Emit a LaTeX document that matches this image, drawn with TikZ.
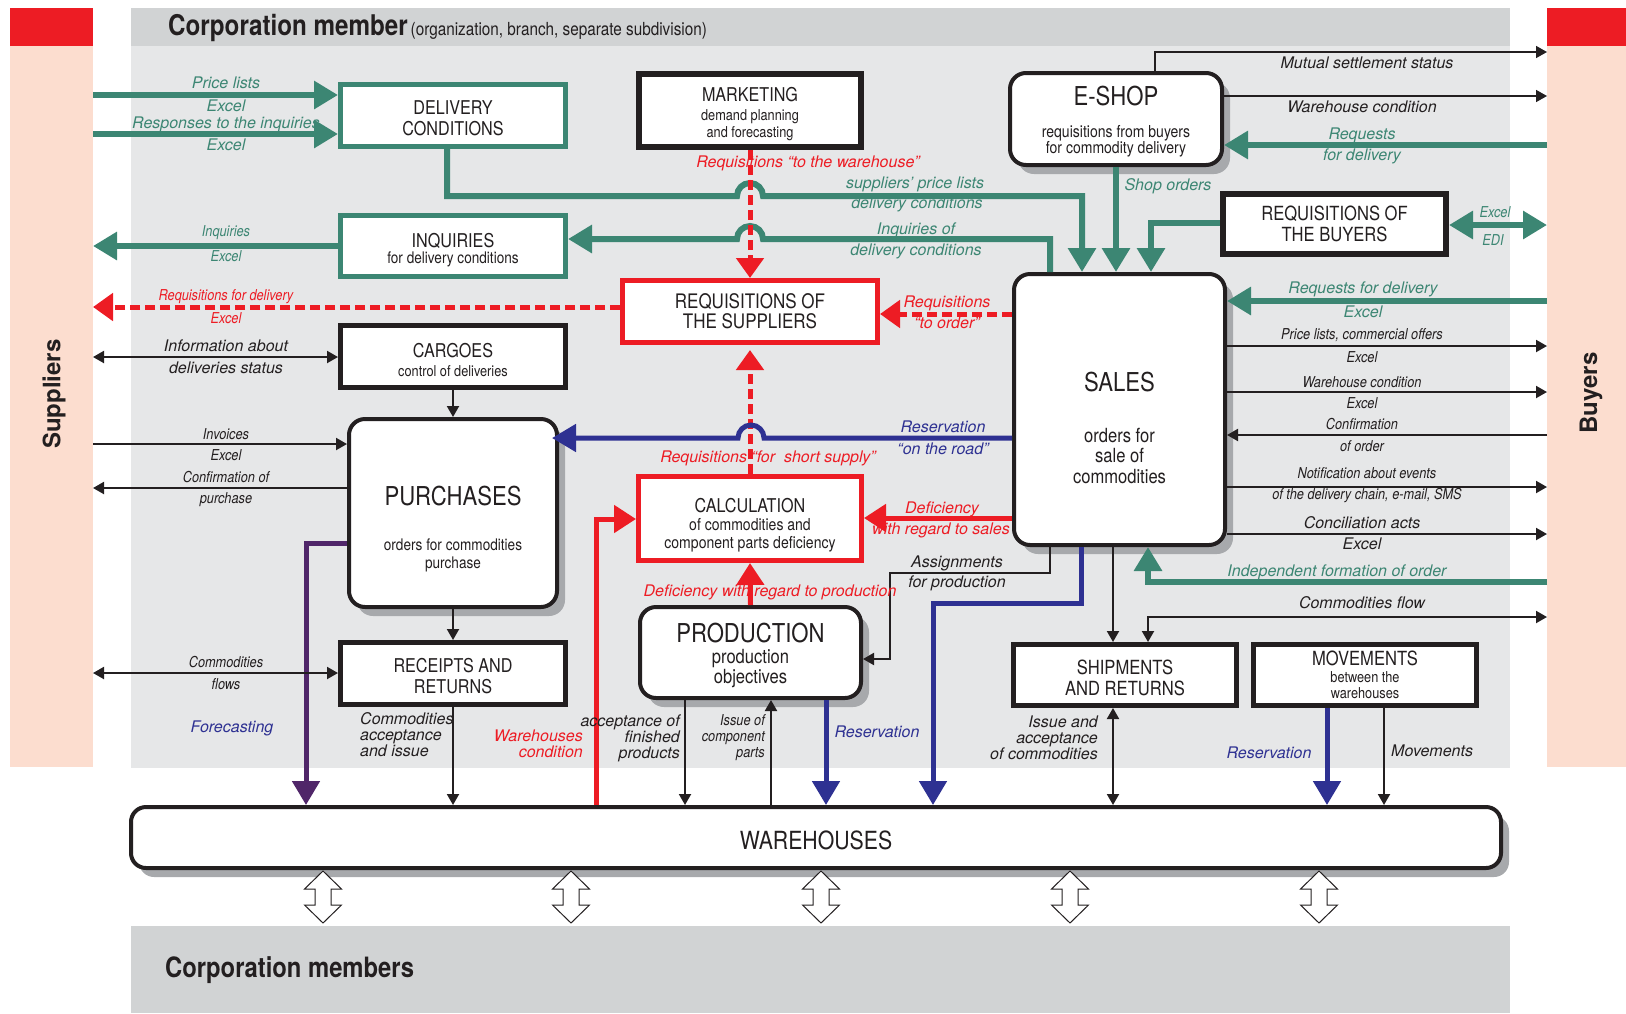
\documentclass[tikz,border=0pt]{standalone}
\usepackage{fontspec}
\setmainfont{TeX Gyre Heros}
\newfontfamily\cnd{TeX Gyre Heros}[FakeStretch=0.85]
\usetikzlibrary{arrows.meta,shadows}
\definecolor{grn}{RGB}{60,134,115}
\definecolor{rd}{RGB}{237,28,36}
\definecolor{blu}{RGB}{46,49,146}
\definecolor{prp}{RGB}{80,38,105}
\definecolor{ink}{RGB}{35,31,32}
\definecolor{bandpink}{RGB}{252,221,207}
\definecolor{hdr}{RGB}{209,211,212}
\definecolor{lgr}{RGB}{230,231,232}
\definecolor{shd}{RGB}{167,169,172}
\newcount\labn
\newcommand\lab[3]{\global\advance\labn by 1\relax\node[#1] (lab\the\labn) at (#2) {#3};}
\newcommand\up[1]{\rule{0pt}{#1pt}}
\tikzset{
 bx/.style={draw=ink, fill=white, line width=5pt, align=center, inner sep=0pt, text=ink},
 gbx/.style={bx, draw=grn},
 rbx/.style={bx, draw=rd},
 rnd/.style={bx, line width=4pt, rounded corners=16pt, drop shadow={shadow xshift=8pt, shadow yshift=-9pt, fill=shd, opacity=1}},
 sz/.style 2 args={font=\cnd\fontsize{#1}{#2}\selectfont},
 garr/.style={draw=grn, line width=6pt, -{Triangle[length=24pt,width=27pt]}},
 gboth/.style={draw=grn, line width=6pt, {Triangle[length=24pt,width=27pt]}-{Triangle[length=24pt,width=27pt]}},
 rdash/.style={draw=rd, line width=5pt, dash pattern=on 10pt off 5pt, -{Triangle[length=20pt,width=27pt]}},
 rarr/.style={draw=rd, line width=5pt, -{Triangle[length=22pt,width=27pt]}},
 barr/.style={draw=blu, line width=5pt, -{Triangle[length=24pt,width=27pt]}},
 parr/.style={draw=prp, line width=5pt, -{Triangle[length=24pt,width=27pt]}},
 karr/.style={draw=ink, line width=2pt, -{Triangle[length=11pt,width=12pt]}},
 kboth/.style={draw=ink, line width=2pt, {Triangle[length=11pt,width=12pt]}-{Triangle[length=11pt,width=12pt]}},
 lr/.style={inner sep=0pt, font=\fontsize{16}{16}\selectfont\itshape, text=ink},
 lc/.style={inner sep=0pt, font=\cnd\fontsize{15}{16}\selectfont\itshape, text=ink},
}
\begin{document}
\begin{tikzpicture}[x=1pt,y=-1pt]
\useasboundingbox (0,0) rectangle (1626,1013);
% backgrounds
\fill[bandpink] (10,46) rectangle (93,767);
\fill[rd] (10,8) rectangle (93,46);
\fill[bandpink] (1547,46) rectangle (1626,767);
\fill[rd] (1547,8) rectangle (1626,46);
\fill[hdr] (131,8) rectangle (1510,46);
\fill[lgr] (131,46) rectangle (1510,768);
\fill[hdr] (131,926) rectangle (1510,1013);
\node[anchor=base west, inner sep=0pt, text=ink] (title) at (168,35) {{\cnd\bfseries\fontsize{28.5}{30}\selectfont Corporation member} {\cnd\fontsize{18}{20}\selectfont (organization, branch, separate subdivision)}};
\node[anchor=base west, inner sep=0pt, text=ink, font=\cnd\bfseries\fontsize{28}{30}\selectfont] (members) at (165,977) {Corporation members};
\node[rotate=90, inner sep=0pt, text=ink, font=\bfseries\fontsize{24}{26}\selectfont] (suppliers) at (54,394) {Suppliers};
\node[rotate=90, inner sep=0pt, text=ink, font=\bfseries\fontsize{24}{26}\selectfont] (buyers) at (1591,393) {Buyers};
\coordinate (sup) at (93,400);
\coordinate (buy) at (1547,400);

% boxes
\node[gbx, minimum width=225pt, minimum height=62pt, sz={19}{20.5}] (delivery) at (453,115.5) {\up{19.6}DELIVERY\\CONDITIONS};
\node[gbx, minimum width=225pt, minimum height=61pt, sz={19}{16}] (inquiries) at (453,246) {\up{21.6}INQUIRIES\\{\fontsize{16}{18}\selectfont for delivery conditions}};
\node[bx, line width=6pt, minimum width=222pt, minimum height=73pt, sz={19}{17}] (marketing) at (750,110.5) {\up{21.6}MARKETING\\[1.5pt]{\fontsize{15}{16}\selectfont demand planning}\\{\fontsize{15}{16}\selectfont and forecasting}};
\node[rbx, minimum width=255pt, minimum height=62pt, sz={20}{20}] (reqsup) at (750,311.5) {REQUISITIONS OF\\THE SUPPLIERS};
\node[bx, minimum width=225pt, minimum height=62pt, sz={19}{19}] (cargoes) at (453,356.5) {\up{20.6}CARGOES\\{\fontsize{15}{16}\selectfont control of deliveries}};
\node[rnd, minimum width=208pt, minimum height=188pt, sz={16}{18}] (purchases) at (453,513) {\up{51}{\fontsize{26}{28}\selectfont PURCHASES}\\[26.5pt]orders for commodities\\purchase};
\node[bx, minimum width=225pt, minimum height=62pt, sz={19}{21}] (receipts) at (453,673.5) {\up{19.6}RECEIPTS AND\\RETURNS};
\node[rbx, minimum width=223pt, minimum height=84pt, sz={16.5}{18}] (calc) at (750,518.5) {\up{27.6}{\fontsize{19}{20}\selectfont CALCULATION}\\of commodities and\\component parts deficiency};
\node[rnd, minimum width=221pt, minimum height=91pt, sz={19.5}{20}] (production) at (750.5,652.5) {\up{25.7}{\fontsize{26}{28}\selectfont PRODUCTION}\\[1pt]production\\objectives};
\node[rnd, minimum width=212pt, minimum height=92pt, sz={16.5}{16}] (eshop) at (1116,119) {\up{24.7}{\fontsize{26}{28}\selectfont E-SHOP}\\[16.5pt]requisitions from buyers\\for commodity delivery};
\node[bx, line width=6pt, minimum width=223pt, minimum height=60pt, sz={19.5}{21}] (reqbuy) at (1334.5,224) {REQUISITIONS OF\\THE BUYERS};
\node[rnd, minimum width=211pt, minimum height=271pt, sz={19.5}{20.5}] (sales) at (1119.5,409.5) {\up{56}{\fontsize{26}{28}\selectfont SALES}\\[30pt]orders for\\sale of\\commodities};
\node[bx, minimum width=223pt, minimum height=61pt, sz={19.5}{21}] (shipments) at (1125,675) {\up{20}SHIPMENTS\\AND RETURNS};
\node[bx, minimum width=223pt, minimum height=61pt, sz={15}{16}] (movements) at (1365,675) {{\fontsize{19.5}{20}\selectfont MOVEMENTS}\\[0.5pt]between the\\warehouses};
\node[rnd, rounded corners=15pt, minimum width=1370pt, minimum height=61pt, sz={25}{26}] (warehouses) at (816,837.5) {\up{24}WAREHOUSES};

% hollow double arrows to corporation members
\foreach \x in {323,571,821,1070,1319}
  \draw[ink, line width=1pt, fill=white] (\x,871) -- ++(18.5,18) -- ++(-10.5,0) -- ++(0,16) -- ++(10.5,0) -- ++(-18.5,18) -- ++(-18.5,-18) -- ++(10.5,0) -- ++(0,-16) -- ++(-10.5,0) -- cycle;

% green connectors
\draw[garr] (sup |- 0,95) -- (delivery.west |- 0,95);
\draw[garr] (sup |- 0,134) -- (delivery.west |- 0,134);
\draw[garr] (delivery.south -| 447,0) -- (447,196) -- (737,196) arc[start angle=180,end angle=0,radius=13pt] -- (1082,196) -- (sales.north -| 1082,0);
\draw[garr] (sales.north -| 1050,0) -- (1050,239) -- (763,239) arc[start angle=0,end angle=180,radius=13pt] -- (inquiries.east |- 0,239);
\draw[garr] (inquiries.west |- 0,246) -- (sup |- 0,246);
\draw[garr] (eshop.south -| 1116,0) -- (sales.north -| 1116,0);
\draw[garr] (reqbuy.west |- 0,223) -- (1151,223) -- (sales.north -| 1151,0);
\draw[gboth] (reqbuy.east |- 0,225) -- (buy |- 0,225);
\draw[garr] (buy |- 0,145) -- (eshop.east |- 0,145);
\draw[garr] (buy |- 0,301) -- (sales.east |- 0,301);
\draw[garr] (buy |- 0,582) -- (1148,582) -- (sales.south -| 1148,0);

% red connectors
\draw[rdash] (marketing.south) -- (reqsup.north);
\draw[rdash] (reqsup.west |- 0,307) -- (sup |- 0,307);
\draw[rdash] (sales.west |- 0,314) -- (reqsup.east |- 0,314);
\draw[rdash, shorten >=5pt] (calc.north) -- (reqsup.south);
\draw[rarr] (sales.west |- 0,518) -- (calc.east |- 0,518);
\draw[rarr] (warehouses.north -| 596,0) -- (596,519) -- (calc.west |- 0,519);
\draw[rarr] (production.north) -- (calc.south);

% blue / purple
\draw[barr, shorten >=-7pt] (sales.west |- 0,438) -- (764,438) arc[start angle=0,end angle=180,radius=13pt] -- (purchases.east |- 0,438);
\draw[barr] (sales.south -| 1081,0) -- (1081,603) -- (933,603) -- (warehouses.north -| 933,0);
\draw[barr] (production.south -| 826,0) -- (warehouses.north -| 826,0);
\draw[barr] (movements.south -| 1327,0) -- (warehouses.north -| 1327,0);
\draw[parr] (purchases.west |- 0,543) -- (306,543) -- (warehouses.north -| 306,0);

% black connectors
\draw[kboth] (sup |- 0,357) -- (cargoes.west |- 0,357);
\draw[karr] (cargoes.south) -- (purchases.north);
\draw[karr] (sup |- 0,444) -- (purchases.west |- 0,444);
\draw[karr] (purchases.west |- 0,488) -- (sup |- 0,488);
\draw[karr] (purchases.south) -- (receipts.north);
\draw[kboth] (sup |- 0,673) -- (receipts.west |- 0,673);
\draw[karr] (receipts.south) -- (warehouses.north -| receipts.south);
\draw[karr] (sales.south -| 1050,0) -- (1050,573) -- (890,573) -- (890,659) -- (production.east |- 0,659);
\draw[karr] (production.south -| 685,0) -- (warehouses.north -| 685,0);
\draw[karr] (warehouses.north -| 771,0) -- (production.south -| 771,0);
\draw[karr] (sales.south -| 1113,0) -- (shipments.north -| 1113,0);
\draw[kboth] (shipments.north -| 1148,0) -- (1148,617) -- (buy |- 0,617);
\draw[kboth] (shipments.south -| 1113,0) -- (warehouses.north -| 1113,0);
\draw[karr] (movements.south -| 1384,0) -- (warehouses.north -| 1384,0);
\draw[karr] (sales.east |- 0,346) -- (buy |- 0,346);
\draw[karr] (sales.east |- 0,392) -- (buy |- 0,392);
\draw[karr] (buy |- 0,435) -- (sales.east |- 0,435);
\draw[karr] (sales.east |- 0,487) -- (buy |- 0,487);
\draw[karr] (sales.east |- 0,534) -- (buy |- 0,534);
\draw[karr, line width=1.6pt] (eshop.north -| 1155,0) -- (1155,52) -- (buy |- 0,52);
\draw[karr, line width=1.6pt] (eshop.east |- 0,96) -- (buy |- 0,96);

% labels: green
\lab{lr,text=grn}{226,83}{Price lists}
\lab{lr,text=grn}{226,106}{Excel}
\lab{lr,text=grn}{226,124}{Responses to the inquiries}
\lab{lr,text=grn}{226,145}{Excel}
\lab{lc,text=grn}{226,233}{Inquiries}
\lab{lc,text=grn}{226,256}{Excel}
\lab{lr,text=grn}{915,184}{suppliers’ price lists}
\lab{lr,text=grn}{917,204}{delivery conditions}
\lab{lr,text=grn}{916,230}{Inquiries of}
\lab{lr,text=grn}{916,251}{delivery conditions}
\lab{lr,text=grn}{1168,186}{Shop orders}
\lab{lr,text=grn}{1362,135}{Requests}
\lab{lr,text=grn}{1362,156}{for delivery}
\lab{lc,text=grn}{1495,212}{Excel}
\lab{lc,text=grn}{1493,240}{EDI}
\lab{lr,text=grn}{1363,289}{Requests for delivery}
\lab{lr,text=grn}{1363,312}{Excel}
\lab{lr,text=grn}{1337,572}{Independent formation of order}
% labels: red
\lab{lc,text=rd}{226,297}{Requisitions for delivery}
\lab{lc,text=rd}{226,318}{Excel}
\lab{lr,text=rd}{808,163}{Requisitions “to the warehouse”}
\lab{lr,text=rd}{947,303}{Requisitions}
\lab{lr,text=rd}{947,323}{“to order”}
\lab{lr,text=rd}{768,458}{Requisitions “for~~short supply”}
\lab{lr,text=rd}{942,509}{Deficiency}
\lab{lr,text=rd}{941,530}{with regard to sales}
\lab{lr,text=rd}{770,592}{Deficiency with regard to production}
\lab{lr,text=rd,align=right,anchor=east}{583,744}{Warehouses\\condition}
% labels: blue
\lab{lr,text=blu}{943,427}{Reservation}
\lab{lr,text=blu}{943,449}{“on the road”}
\lab{lr,text=blu}{232,728}{Forecasting}
\lab{lr,text=blu}{877,732}{Reservation}
\lab{lr,text=blu}{1269,753}{Reservation}
% labels: black
\lab{lr}{226,346}{Information about}
\lab{lr}{226,368}{deliveries status}
\lab{lc}{226,434}{Invoices}
\lab{lc}{226,455}{Excel}
\lab{lc}{226,477}{Confirmation of}
\lab{lc}{226,500}{purchase}
\lab{lc}{226,662}{Commodities}
\lab{lc}{226,684}{flows}
\lab{lr,align=left,anchor=west}{360,735}{Commodities\\acceptance\\and issue}
\lab{lr,align=right,anchor=east}{680,738}{acceptance of\\finished\\products}
\lab{lc,align=right,anchor=east}{765,738}{Issue of\\component\\parts}
\lab{lr}{957,563}{Assignments}
\lab{lr}{957,583}{for production}
\lab{lr,align=right,anchor=east}{1098,738}{Issue and\\acceptance\\of commodities}
\lab{lr,anchor=west}{1391,751}{Movements}
\lab{lr}{1367,63}{Mutual settlement status}
\lab{lr}{1362,107}{Warehouse condition}
\lab{lc}{1362,335}{Price lists, commercial offers}
\lab{lc}{1362,357}{Excel}
\lab{lc}{1362,382}{Warehouse condition}
\lab{lc}{1362,403}{Excel}
\lab{lc}{1362,424}{Confirmation}
\lab{lc}{1362,446}{of order}
\lab{lc}{1367,473}{Notification about events}
\lab{lc}{1367,496}{of the delivery chain, e-mail, SMS}
\lab{lr}{1362,523}{Conciliation acts}
\lab{lr}{1362,544}{Excel}
\lab{lr}{1362,603}{Commodities flow}
\end{tikzpicture}
\end{document}
